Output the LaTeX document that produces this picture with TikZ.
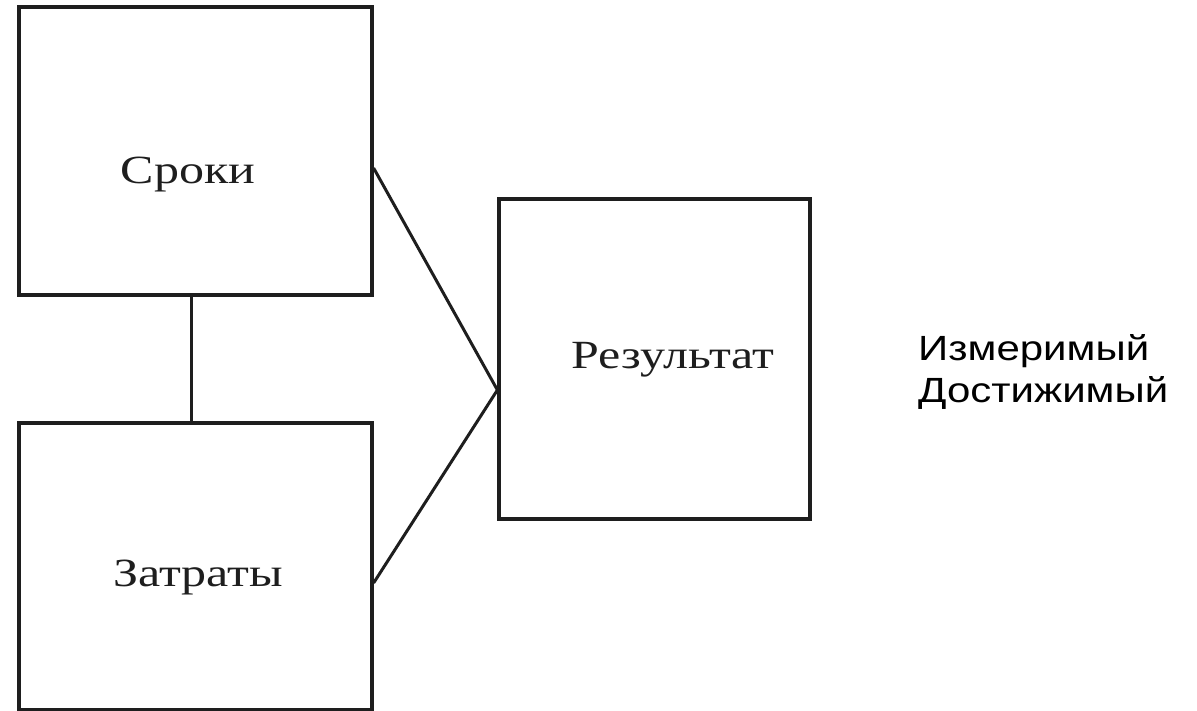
\documentclass[tikz,border=0pt]{standalone}
\usepackage{fontspec}
\setmainfont{Liberation Serif}
\newfontfamily\sansfont{Liberation Sans}
\definecolor{ink}{HTML}{1E1E1E}
\begin{document}
\begin{tikzpicture}[x=1pt,y=-1pt,
  boxnode/.style={draw=ink,line width=3.2pt,inner sep=0pt,rectangle},
  serlabel/.style={anchor=base,inner sep=0pt,font=\fontsize{40}{48}\selectfont,text=ink},
  conn/.style={draw=ink,line width=3pt}]
\useasboundingbox (0,0) rectangle (1197,711);
\node[boxnode,minimum width=353pt,minimum height=288pt] (srok) at (195.5,151) {};
\node[boxnode,minimum width=353pt,minimum height=287pt] (zat) at (195.5,566.5) {};
\node[boxnode,minimum width=311pt,minimum height=320pt] (res) at (654.5,359) {};
\node[serlabel] (tsrok) at (188,184) {\scalebox{1.25}[1]{Сроки}};
\node[serlabel] (tzat) at (198,586) {\scalebox{1.25}[1]{Затраты}};
\node[serlabel] (tres) at (673,368) {\scalebox{1.25}[1]{Результат}};
\node[anchor=base west,inner sep=0pt,align=left,font=\sansfont\fontsize{35}{42}\selectfont,text=black] (props) at (918,402)
  {\scalebox{1.2}[1]{Измеримый}\\\scalebox{1.2}[1]{Достижимый}};
\draw[conn] ([xshift=-4.5pt]srok.south) -- ([xshift=-4.5pt]zat.north);
\coordinate (meet) at ([yshift=-31pt]res.west);
\draw[conn] ([yshift=-17pt]srok.east) -- (meet);
\draw[conn] ([yshift=-16.5pt]zat.east) -- (meet);
\end{tikzpicture}
\end{document}
